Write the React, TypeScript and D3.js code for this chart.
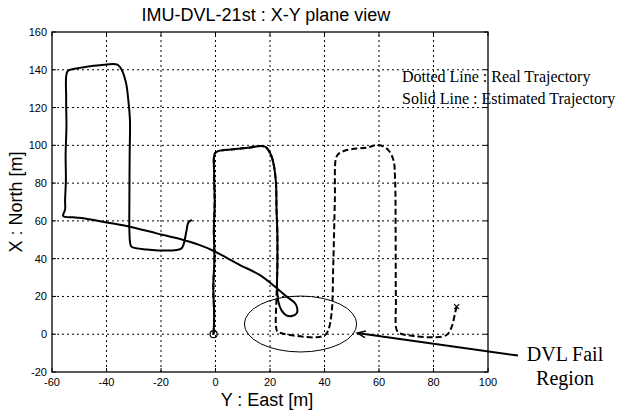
import React from 'react';
import * as d3 from 'd3';

const W = 620;
const H = 414;

const xTicks = [-60, -40, -20, 0, 20, 40, 60, 80, 100];
const yTicks = [-20, 0, 20, 40, 60, 80, 100, 120, 140, 160];

const titleText = 'IMU-DVL-21st : X-Y plane view';
const xLabel = 'Y : East [m]';
const yLabel = 'X : North [m]';
const legendLines = ['Dotted Line : Real Trajectory', 'Solid Line : Estimated Trajectory'];
const noteLines = ['DVL Fail', 'Region'];

// Estimated trajectory (solid)
const estEast = [
  -0.7, -0.5, -0.8, -0.4, -0.6, -0.3, -0.5, -0.2, 1.6, 6.5, 12.7, 16.3, 18.2, 19.4, 20.6, 21.5, 22.2, 22.4, 22.7,
  22.7, 22.6, 23.1, 24.3, 26, 28, 29.8, 30, 29.2, 26.1, 22.4, 16.3, 9, 4, -0.8, -6, -11.8, -21.6, -31.4, -39.9,
  -48, -52.2, -55.9, -55.2, -55.2, -54.9, -55, -54.7, -54.8, -54.4, -52.8, -47.3, -42.4, -36, -34.4, -32.8, -32,
  -31.4, -31.5, -31.6, -31.6, -31.3, -30.8, -25.3, -14.2, -12.4, -11.6, -10.6, -10, -8.7,
];
const estNorth = [
  0, 10, 25, 40, 55, 70, 85, 95.8, 97.2, 97.9, 98.8, 99.6, 99.3, 97.5, 94, 88.7, 79.9, 65.8, 53.4,
  35.8, 25, 17, 12.5, 10, 9.6, 11.1, 13.7, 16.4, 19.9, 24.5, 31.3, 36.6, 40.5, 44.2, 47.3, 49.9, 53.4, 56.9, 59.2,
  61.3, 61.9, 62.6, 66, 71, 81.6, 95, 110, 125, 139, 140.2, 141.6, 142.4, 142.7, 139.9, 132.8, 124,
  113.4, 95, 71, 55, 48.1, 46.3, 44.9, 44.6, 45.5, 48.1, 55.2, 59, 60.5,
];

// Real trajectory (dashed)
const realEast = [
  -0.7, -0.5, -0.8, -0.4, -0.6, -0.3, -0.5, -0.2, 1.6, 6.5, 12.7, 16.3, 18.2, 19.4, 20.6, 21.5, 22.2, 22.4, 22.7,
  22.7, 22.4, 22.2, 22.7, 24.3, 27.3, 32.2, 37.1, 40.2, 41.4, 42.6, 43.2, 43.8, 44.2, 45.1, 48.1, 55.5, 59.1, 61,
  63.4, 65.3, 65.9, 66.1, 66.2, 66.5, 67.7, 72.6, 80, 84.8, 86.7, 87.9, 88.5,
];
const realNorth = [
  0, 10, 25, 40, 55, 70, 85, 95.8, 97.2, 97.9, 98.8, 99.6, 99.3, 97.5, 94, 88.7, 79.9, 65.8, 53.4,
  35.8, 20, 4, 1.4, 0.5, -0.4, -1.3, -1.6, -0.4, 2.2, 11.1, 35.8, 71.1, 93.1, 95.4, 97.5, 98.8, 100.2, 99.8,
  97.5, 92.2, 81.6, 53.4, 18.1, 2.2, 0.5, -0.9, -1.6, -0.4, 4, 11.1, 14.6,
];

const failCenter = [31.2, 5.4];
const failRadii = [20.6, 14.8];
const arrowTip = [52.0, 0.6];
const arrowTail = [111, -11.3];

const margin = { left: 52, right: 132, top: 32, bottom: 42 };

export default function App() {
  const x = d3.scaleLinear().domain([-60, 100]).range([margin.left, W - margin.right]);
  const y = d3.scaleLinear().domain([-20, 160]).range([H - margin.bottom, margin.top]);
  const [x0, x1] = x.range();
  const [y0, y1] = y.range();

  const estPts: [number, number][] = estEast.map((e, i) => [x(e), y(estNorth[i])]);
  const realPts: [number, number][] = realEast.map((e, i) => [x(e), y(realNorth[i])]);
  const path = d3.line().curve(d3.curveCatmullRom.alpha(0.5));

  const sans = 'Liberation Sans, Arial, Helvetica, sans-serif';
  const serif = 'Liberation Serif, Times New Roman, serif';

  const tipX = x(arrowTip[0]);
  const tipY = y(arrowTip[1]);
  const tailX = x(arrowTail[0]);
  const tailY = y(arrowTail[1]);
  const ang = Math.atan2(tailY - tipY, tailX - tipX);
  const ah = 9;
  const aw = 0.38;
  const endX = realEast[realEast.length - 1];
  const endY = realNorth[realNorth.length - 1];
  const cx = (x0 + x1) / 2 - 4;

  return (
    <svg width={W} height={H} style={{ position: 'absolute', left: 0, top: 0, background: '#fff' }}>
      <rect x={0} y={0} width={W} height={H} fill="#fff" />
      {/* grid */}
      {xTicks.slice(1, -1).map((t) => (
        <line key={'gx' + t} x1={x(t)} x2={x(t)} y1={y0} y2={y1} stroke="#000" strokeWidth={1} strokeDasharray="2,3" />
      ))}
      {yTicks.slice(1, -1).map((t) => (
        <line key={'gy' + t} x1={x0} x2={x1} y1={y(t)} y2={y(t)} stroke="#000" strokeWidth={1} strokeDasharray="2,3" />
      ))}
      {/* ticks */}
      {xTicks.map((t) => (
        <g key={'tx' + t}>
          <line x1={x(t)} x2={x(t)} y1={y0} y2={y0 - 4} stroke="#000" />
          <line x1={x(t)} x2={x(t)} y1={y1} y2={y1 + 4} stroke="#000" />
          <text x={x(t)} y={y0 + 14} textAnchor="middle" fontFamily={sans} fontSize={11} fill="#000">
            {t}
          </text>
        </g>
      ))}
      {yTicks.map((t) => (
        <g key={'ty' + t}>
          <line x1={x0} x2={x0 + 4} y1={y(t)} y2={y(t)} stroke="#000" />
          <line x1={x1} x2={x1 - 4} y1={y(t)} y2={y(t)} stroke="#000" />
          <text x={x0 - 5} y={y(t) + 4} textAnchor="end" fontFamily={sans} fontSize={11} fill="#000">
            {t}
          </text>
        </g>
      ))}
      {/* real trajectory */}
      <path d={path(realPts) || ''} fill="none" stroke="#000" strokeWidth={2} strokeDasharray="6,3" />
      {/* estimated trajectory */}
      <path d={path(estPts) || ''} fill="none" stroke="#000" strokeWidth={2} strokeLinejoin="round" />
      {/* start marker */}
      <circle cx={x(realEast[0])} cy={y(realNorth[0])} r={3.5} fill="none" stroke="#000" strokeWidth={1.2} />
      {/* end marker of real */}
      <g stroke="#000" strokeWidth={1.2}>
        <line x1={x(endX) - 2.5} x2={x(endX) + 2.5} y1={y(endY) - 2.5} y2={y(endY) + 2.5} />
        <line x1={x(endX) - 2.5} x2={x(endX) + 2.5} y1={y(endY) + 2.5} y2={y(endY) - 2.5} />
      </g>
      {/* fail region ellipse */}
      <ellipse
        cx={x(failCenter[0])}
        cy={y(failCenter[1])}
        rx={x(failCenter[0] + failRadii[0]) - x(failCenter[0])}
        ry={y(failCenter[1]) - y(failCenter[1] + failRadii[1])}
        fill="none"
        stroke="#000"
        strokeWidth={1}
      />
      {/* axes box */}
      <rect x={x0} y={y1} width={x1 - x0} height={y0 - y1} fill="none" stroke="#000" strokeWidth={1.3} />
      {/* arrow */}
      <line x1={tipX} y1={tipY} x2={tailX} y2={tailY} stroke="#000" strokeWidth={2} />
      <path
        d={`M${tipX + ah * Math.cos(ang - aw)},${tipY + ah * Math.sin(ang - aw)} L${tipX},${tipY} L${tipX + ah * Math.cos(ang + aw)},${tipY + ah * Math.sin(ang + aw)}`}
        fill="none"
        stroke="#000"
        strokeWidth={1.5}
      />
      {/* texts */}
      <text x={cx} y={21} textAnchor="middle" fontFamily={sans} fontSize={18} fill="#000">
        {titleText}
      </text>
      <text x={cx + 1} y={406} textAnchor="middle" fontFamily={sans} fontSize={18} fill="#000">
        {xLabel}
      </text>
      <text
        transform={`translate(22,${(y0 + y1) / 2}) rotate(-90)`}
        textAnchor="middle"
        fontFamily={sans}
        fontSize={18}
        fill="#000"
      >
        {yLabel}
      </text>
      {legendLines.map((s, i) => (
        <text key={s} x={402} y={82 + i * 22} fontFamily={serif} fontSize={16} fill="#000">
          {s}
        </text>
      ))}
      {noteLines.map((s, i) => (
        <text key={s} x={565} y={361 + i * 24} textAnchor="middle" fontFamily={serif} fontSize={20} fill="#000">
          {s}
        </text>
      ))}
    </svg>
  );
}
